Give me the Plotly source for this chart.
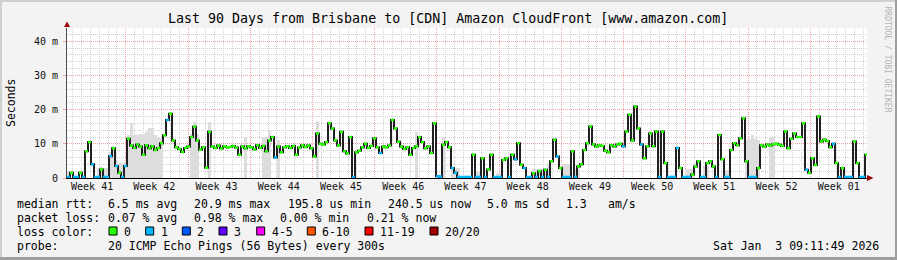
import pandas as pd
import plotly.graph_objects as go

# ---------------- data ----------------
END = pd.Timestamp("2026-01-03 09:11:49")
START = END - pd.Timedelta(days=90)
STEP = pd.Timedelta(minutes=486)  # consolidated sample interval

median_ms = [
    0.3, 1.5, 0.3, 0.3, 1.5, 0.3, 7.8, 10.5, 4.0, 0.3,
    0.3, 2.5, 0.3, 0.3, 6.4, 8.7, 3.5, 1.5, 0.3, 3.5,
    11.5, 9.5, 8.8, 9.8, 9.2, 6.8, 9.6, 8.7, 9.3, 8.2,
    8.8, 10.2, 12.5, 17.0, 18.8, 11.0, 9.0, 8.5, 7.6, 8.8,
    9.2, 12.0, 15.0, 11.0, 8.3, 9.0, 3.0, 13.5, 9.2, 8.8,
    9.5, 8.6, 9.3, 9.0, 9.1, 9.4, 8.9, 6.8, 9.2, 8.7,
    9.3, 9.0, 8.4, 9.6, 8.8, 9.4, 7.8, 11.0, 12.0, 6.0,
    9.2, 7.5, 9.0, 9.3, 8.8, 9.4, 6.8, 8.9, 9.6, 9.1,
    9.5, 8.7, 6.3, 13.0, 10.0, 9.8, 10.5, 16.0, 14.5, 11.0,
    9.5, 13.5, 7.8, 7.2, 12.0, 0.2, 7.5, 8.0, 9.0, 10.0,
    8.8, 9.4, 11.6, 9.0, 7.3, 9.2, 9.0, 9.5, 17.0, 14.5,
    10.6, 9.2, 8.5, 9.0, 6.8, 8.8, 9.3, 12.0, 10.5, 8.7,
    9.2, 7.3, 16.0, 0.5, 0.4, 9.7, 10.5, 9.0, 2.9, 1.5,
    0.3, 0.3, 0.3, 0.3, 0.3, 6.8, 0.3, 0.3, 5.8, 0.3,
    2.5, 6.8, 0.3, 0.3, 0.3, 5.3, 5.8, 0.3, 6.8, 5.5,
    10.2, 3.9, 2.9, 0.3, 0.3, 1.4, 0.3, 2.0, 0.3, 2.4,
    0.3, 4.9, 11.2, 6.3, 2.9, 0.3, 0.3, 0.3, 7.8, 0.3,
    3.4, 4.0, 8.2, 10.2, 15.1, 9.8, 9.2, 9.6, 9.4, 8.0,
    7.5, 9.6, 9.2, 9.8, 10.0, 9.3, 13.6, 18.5, 11.0, 20.9,
    14.5, 9.8, 5.8, 9.3, 13.0, 9.3, 13.6, 0.3, 13.6, 4.4,
    0.3, 0.3, 0.3, 8.8, 2.9, 0.3, 0.3, 0.3, 1.0, 3.4,
    4.9, 0.3, 0.3, 4.4, 4.9, 3.4, 0.3, 12.6, 5.5, 0.3,
    0.3, 8.2, 10.2, 9.6, 11.6, 17.5, 4.9, 0.3, 0.3, 0.3,
    2.9, 9.6, 9.2, 9.8, 9.5, 9.9, 10.0, 9.7, 9.4, 13.6,
    8.7, 11.5, 13.0, 12.0, 12.0, 16.0, 2.4, 1.5, 5.8, 3.8,
    18.0, 10.7, 11.2, 10.8, 9.0, 10.0, 4.4, 0.3, 2.9, 0.3,
    0.3, 0.3, 10.7, 4.4, 0.3, 0.3, 6.8,
]

# samples with 1/20 packet loss (drawn in the "1" colour), all others 0 loss
loss1_idx = [
    0, 2, 3, 5, 8, 9, 10, 12, 13, 14, 16, 18, 19, 33, 69, 95, 104,
    123, 124, 128, 129, 130, 131, 132, 133, 134, 136, 137, 139, 142, 143, 144,
    147, 149, 152, 153, 154, 156, 158, 160, 163, 165, 166, 167, 169, 185, 191,
    197, 200, 201, 202, 203, 205, 206, 207, 211, 212, 216, 219, 220, 227, 228,
    229, 246, 255, 257, 259, 260, 261, 264, 265,
]

# smoke (ping spread) tops where visible above the median
smoke_idx = [
    0, 10, 11, 12, 13, 14, 15, 16, 17, 18, 19, 20, 21, 22, 23, 24, 25, 26, 27,
    28, 29, 30, 31, 41, 42, 43, 47, 59, 65, 66, 67, 70, 83, 116, 125, 128, 129,
    130, 136, 137, 143, 144, 155, 156, 157, 158, 159, 160, 165, 166, 167, 169,
    170, 206, 207, 208, 212, 213, 219, 220, 226, 227, 228, 229, 230, 234, 235,
]
smoke_top_ms = [
    2.0, 3.0, 3.2, 3.0, 3.0, 7.5, 9.5, 5.0, 4.5, 4.5, 4.5, 12.5, 16.0, 12.5,
    12.5, 13.0, 13.0, 13.5, 14.5, 14.5, 12.5, 12.0, 11.5, 13.0, 16.5, 13.0,
    16.3, 12.0, 12.0, 12.0, 13.8, 11.0, 16.8, 13.6, 12.0, 3.0, 3.0, 3.0, 1.8,
    1.8, 1.5, 1.5, 2.5, 2.5, 2.5, 2.5, 2.5, 4.0, 4.0, 4.0, 4.0, 2.5, 2.5, 2.5,
    2.5, 2.5, 3.5, 3.5, 2.4, 2.4, 11.0, 11.5, 12.5, 11.5, 11.0, 12.0, 12.0,
]

week_labels = ["Week 41", "Week 42", "Week 43", "Week 44", "Week 45", "Week 46",
               "Week 47", "Week 48", "Week 49", "Week 50", "Week 51", "Week 52",
               "Week 01"]
y_tick_vals = [0, 10, 20, 30, 40]
y_tick_text = ["0", "10 m", "20 m", "30 m", "40 m"]

loss_labels = ["0", "1", "2", "3", "4-5", "6-10", "11-19", "20/20"]
loss_colors = ["#26ff00", "#00b8ff", "#0059ff", "#5e00ff", "#ff00ff",
               "#ff5500", "#ff0000", "#a10000"]

title_text = "Last 90 Days from Brisbane to [CDN] Amazon CloudFront [www.amazon.com]"
median_parts = ["median rtt:", "6.5 ms avg", "20.9 ms max", "195.8 us min",
                "240.5 us now", "5.0 ms sd", "1.3", "am/s"]
loss_parts = ["packet loss:", "0.07 % avg", "0.98 % max", "0.00 % min", "0.21 % now"]
probe_parts = ["probe:", "20 ICMP Echo Pings (56 Bytes) every 300s"]
date_text = "Sat Jan  3 09:11:49 2026"

# ---------------- layout helpers ----------------
W, H = 897, 260
L, R, T, B = 67, 867, 28, 178   # plot area in pixels
PW, PH = R - L, B - T


def px(x):
    return (x - L) / PW


def py(y):
    return (B - y) / PH


FONT = "DejaVu Sans Mono"
n = len(median_ms)
t = [START + i * STEP for i in range(n)]
step_ms = STEP.total_seconds() * 1000
loss1 = set(loss1_idx)

fig = go.Figure()

# smoke
fig.add_trace(go.Bar(
    x=[t[i] for i in smoke_idx], y=smoke_top_ms, width=step_ms, offset=0,
    marker=dict(color="#dddddd", line=dict(width=0)), hoverinfo="skip",
    showlegend=False))

# median (dark step line)
fig.add_trace(go.Scatter(
    x=t + [t[-1] + STEP], y=median_ms + [median_ms[-1]], mode="lines",
    line=dict(color="#202020", width=2, shape="hv"), hoverinfo="skip",
    showlegend=False))


def segs(idxs):
    xs, ys = [], []
    for i in idxs:
        xs += [t[i], t[i] + STEP, None]
        ys += [median_ms[i], median_ms[i], None]
    return xs, ys


gx, gy = segs([i for i in range(n) if i not in loss1])
bx, by = segs(sorted(loss1))
fig.add_trace(go.Scatter(x=gx, y=gy, mode="lines", line=dict(color=loss_colors[0], width=2.5),
                         hoverinfo="skip", showlegend=False, connectgaps=False))
fig.add_trace(go.Scatter(x=bx, y=by, mode="lines", line=dict(color=loss_colors[1], width=2.5),
                         hoverinfo="skip", showlegend=False, connectgaps=False))

# invisible trace to carry the label axis
fig.add_trace(go.Scatter(x=[START, END], y=[0, 0], xaxis="x2", mode="lines",
                         line=dict(width=0), opacity=0, hoverinfo="skip", showlegend=False))

week_starts = pd.date_range("2025-10-05", periods=len(week_labels), freq="7D")
week_mid = [w + pd.Timedelta(hours=77) for w in week_starts]

DAY = 86400000
fig.update_layout(
    width=W, height=H,
    margin=dict(l=L, r=W - R, t=T, b=H - B, pad=0),
    paper_bgcolor="#f3f3f3", plot_bgcolor="#ffffff",
    showlegend=False, bargap=0,
    xaxis=dict(
        type="date", range=[START, END], tickmode="linear",
        tick0="2025-10-12", dtick=7 * DAY, showticklabels=False, ticks="",
        showgrid=True, gridcolor="#f0a0a0", griddash="1px,1px", gridwidth=1,
        minor=dict(tick0="2025-10-06", dtick=DAY, showgrid=True,
                   gridcolor="#d2d2d2", griddash="1px,1px", gridwidth=1),
        showline=True, linecolor="#000000", linewidth=1, zeroline=False,
        fixedrange=True),
    xaxis2=dict(
        type="date", range=[START, END], overlaying="x", anchor="y", side="bottom",
        tickmode="array", tickvals=week_mid, ticktext=week_labels, ticks="",
        ticklabelstandoff=1,
        showgrid=False, zeroline=False, showline=False,
        tickfont=dict(family=FONT, size=10, color="#111111")),
    yaxis=dict(
        range=[0, 43.9], tickmode="array", tickvals=y_tick_vals, ticktext=y_tick_text,
        ticks="outside", ticklen=3, tickcolor="#f0a0a0", ticklabelstandoff=3,
        showgrid=True, gridcolor="#f0a0a0", griddash="1px,1px", gridwidth=1,
        minor=dict(dtick=2, showgrid=True, gridcolor="#d2d2d2",
                   griddash="1px,1px", gridwidth=1),
        showline=True, linecolor="#505050", linewidth=1, zeroline=False,
        tickfont=dict(family=FONT, size=10, color="#111111"), fixedrange=True),
)

ann = []
ann.append(dict(text=title_text, x=px(448), y=py(18.5), xanchor="center", yanchor="middle",
                font=dict(family=FONT, size=13.3, color="#000000")))
ann.append(dict(text="Seconds", x=px(11), y=py(103), xanchor="center", yanchor="middle",
                textangle=-90, font=dict(family=FONT, size=11.5, color="#000000")))
ann.append(dict(text="RRDTOOL / TOBI OETIKER", x=px(887.5), y=py(59), xanchor="center",
                yanchor="middle", textangle=90, font=dict(family=FONT, size=8, color="#b4b4b4")))

median_x = [16, 107.3, 193.3, 286.7, 386.7, 485.7, 565, 606.7]
loss_x = [16, 107.3, 193.3, 279.3, 365.7]
probe_x = [16, 107.3]
for parts, xs, yc in ((median_parts, median_x, 204), (loss_parts, loss_x, 218),
                      (probe_parts, probe_x, 246)):
    for s, x in zip(parts, xs):
        ann.append(dict(text=s, x=px(x - 1), y=py(yc), xanchor="left", yanchor="middle",
                        font=dict(family=FONT, size=11.5, color="#000000")))
ann.append(dict(text="loss color:", x=px(15), y=py(232), xanchor="left", yanchor="middle",
                font=dict(family=FONT, size=11.5, color="#000000")))
box_x = [109, 145.7, 182.3, 219, 256.7, 307.3, 365, 430]
shapes = []
for lab, col, bx0 in zip(loss_labels, loss_colors, box_x):
    shapes.append(dict(type="rect", xref="paper", yref="paper",
                       x0=px(bx0), x1=px(bx0 + 8), y0=py(235), y1=py(227),
                       fillcolor=col, line=dict(color="#000000", width=1)))
    ann.append(dict(text=lab, x=px(bx0 + 13), y=py(232), xanchor="left", yanchor="middle",
                    font=dict(family=FONT, size=11.5, color="#000000")))
ann.append(dict(text=date_text.replace(" ", "\u00a0"), x=px(881), y=py(246), xanchor="right",
                yanchor="middle", font=dict(family=FONT, size=11.5, color="#000000")))

for a in ann:
    a.update(xref="paper", yref="paper", showarrow=False)

# axis arrows
shapes.append(dict(type="path", xref="paper", yref="paper",
                   path=f"M {px(64)} {py(27)} L {px(70)} {py(27)} L {px(67)} {py(21.5)} Z",
                   fillcolor="#990000", line=dict(width=0)))
shapes.append(dict(type="path", xref="paper", yref="paper",
                   path=f"M {px(867)} {py(175)} L {px(867)} {py(181)} L {px(873.5)} {py(178)} Z",
                   fillcolor="#990000", line=dict(width=0)))
# 3d frame
shapes += [
    dict(type="rect", xref="paper", yref="paper", x0=px(0), x1=px(W), y0=py(0), y1=py(2),
         fillcolor="#cfcfcf", line=dict(width=0)),
    dict(type="rect", xref="paper", yref="paper", x0=px(0), x1=px(2), y0=py(0), y1=py(H),
         fillcolor="#cfcfcf", line=dict(width=0)),
    dict(type="rect", xref="paper", yref="paper", x0=px(W - 2), x1=px(W), y0=py(0), y1=py(H),
         fillcolor="#9e9e9e", line=dict(width=0)),
    dict(type="rect", xref="paper", yref="paper", x0=px(0), x1=px(W), y0=py(H - 3), y1=py(H),
         fillcolor="#9e9e9e", line=dict(width=0)),
]

fig.update_layout(annotations=ann, shapes=shapes)
fig.write_html("out.html")
